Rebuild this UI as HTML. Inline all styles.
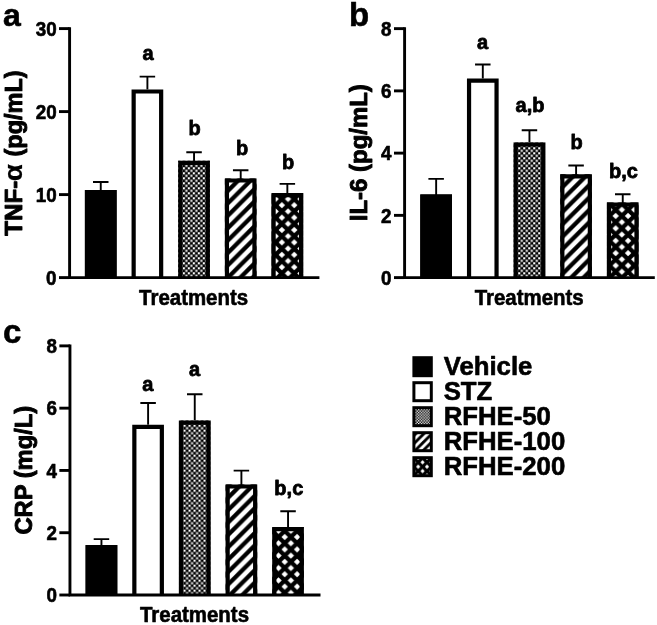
<!DOCTYPE html>
<html lang="en"><head><meta charset="utf-8"><title>Figure</title>
<style>html,body{margin:0;padding:0;background:#fff}body{width:657px;height:625px;overflow:hidden}svg{display:block}text{font-family:'Liberation Sans', Arial, Helvetica, sans-serif;font-weight:bold;fill:#000}</style>
</head><body>
<svg width="657" height="625" viewBox="0 0 657 625">
<defs>
<pattern id="pChk" x="-0.4" y="-0.35" width="5" height="5" patternUnits="userSpaceOnUse"><rect width="5" height="5" fill="#000"/><rect x="0" y="0" width="2.15" height="2.15" fill="#fff"/><rect x="2.5" y="2.5" width="2.15" height="2.15" fill="#fff"/></pattern>
<pattern id="pDiagA" x="-80.75" y="0" width="12.4" height="12.4" patternUnits="userSpaceOnUse"><rect width="12.4" height="12.4" fill="#000"/><path d="M0 0H6.4L0 6.4ZM12.4 0V6.4L6.4 12.4H0Z" fill="#fff"/></pattern>
<pattern id="pDiagB" x="-85.3" y="0" width="12.4" height="12.4" patternUnits="userSpaceOnUse"><rect width="12.4" height="12.4" fill="#000"/><path d="M0 0H6.4L0 6.4ZM12.4 0V6.4L6.4 12.4H0Z" fill="#fff"/></pattern>
<pattern id="pDiagC" x="-91.77" y="0" width="12.4" height="12.4" patternUnits="userSpaceOnUse"><rect width="12.4" height="12.4" fill="#000"/><path d="M0 0H6.4L0 6.4ZM12.4 0V6.4L6.4 12.4H0Z" fill="#fff"/></pattern>
<pattern id="pHatchA" x="10.36" y="-72.4" width="12.4" height="12.4" patternUnits="userSpaceOnUse"><rect width="12.4" height="12.4" fill="#000"/><path d="M6.2 3L9.4 6.2L6.2 9.4L3 6.2ZM0 0H3.2L0 3.2ZM12.4 0H9.2L12.4 3.2ZM0 12.4H3.2L0 9.2ZM12.4 12.4H9.2L12.4 9.2Z" fill="#fff"/></pattern>
<pattern id="pHatchB" x="8.78" y="-74.04" width="12.4" height="12.4" patternUnits="userSpaceOnUse"><rect width="12.4" height="12.4" fill="#000"/><path d="M6.2 3L9.4 6.2L6.2 9.4L3 6.2ZM0 0H3.2L0 3.2ZM12.4 0H9.2L12.4 3.2ZM0 12.4H3.2L0 9.2ZM12.4 12.4H9.2L12.4 9.2Z" fill="#fff"/></pattern>
<pattern id="pHatchC" x="12.51" y="-57.97" width="12.4" height="12.4" patternUnits="userSpaceOnUse"><rect width="12.4" height="12.4" fill="#000"/><path d="M6.2 3L9.4 6.2L6.2 9.4L3 6.2ZM0 0H3.2L0 3.2ZM12.4 0H9.2L12.4 3.2ZM0 12.4H3.2L0 9.2ZM12.4 12.4H9.2L12.4 9.2Z" fill="#fff"/></pattern>
<pattern id="pChkL" width="2.8" height="2.8" patternUnits="userSpaceOnUse"><rect width="2.8" height="2.8" fill="#000"/><rect x="0" y="0" width="1.35" height="1.35" fill="#fff"/><rect x="1.4" y="1.4" width="1.35" height="1.35" fill="#fff"/></pattern>
<pattern id="pDiagL" x="15.95" y="0" width="8.1" height="8.1" patternUnits="userSpaceOnUse"><rect width="8.1" height="8.1" fill="#000"/><path d="M0 0H4.1L0 4.1ZM8.1 0V4.1L4.1 8.1H0Z" fill="#fff"/></pattern>
<pattern id="pHatchL" x="5.8" y="1.7" width="8.8" height="8.8" patternUnits="userSpaceOnUse"><rect width="8.8" height="8.8" fill="#000"/><path d="M4.4 2.3L6.5 4.4L4.4 6.5L2.3 4.4ZM0 0H2.1L0 2.1ZM8.8 0H6.7L8.8 2.1ZM0 8.8H2.1L0 6.7ZM8.8 8.8H6.7L8.8 6.7Z" fill="#fff"/></pattern>
</defs>
<rect width="657" height="625" fill="#fff"/>
<g>
<path d="M100.75 191V182M93 182H108.5" stroke="#000" stroke-width="1.9" fill="none"/>
<g transform="translate(84.9 277.6)"><rect x="0" y="-87.6" width="31.7" height="87.6" fill="#000"/><path d="M2.1 0V-85.5H29.6V0" fill="none" stroke="#000" stroke-width="4.2"/></g>
<path d="M147.4 90.4V76.6M139.65 76.6H155.15" stroke="#000" stroke-width="1.9" fill="none"/>
<g transform="translate(131.55 277.6)"><rect x="0" y="-188.2" width="31.7" height="188.2" fill="#fff"/><path d="M2.1 0V-186.1H29.6V0" fill="none" stroke="#000" stroke-width="4.2"/></g>
<path d="M194.05 161.7V152.3M186.3 152.3H201.8" stroke="#000" stroke-width="1.9" fill="none"/>
<g transform="translate(178.2 277.6)"><rect x="0" y="-116.9" width="31.7" height="116.9" fill="url(#pChk)"/><path d="M2.1 0V-114.8H29.6V0" fill="none" stroke="#000" stroke-width="4.2"/></g>
<path d="M240.7 179.4V170.3M232.95 170.3H248.45" stroke="#000" stroke-width="1.9" fill="none"/>
<g transform="translate(224.85 277.6)"><rect x="0" y="-99.2" width="31.7" height="99.2" fill="url(#pDiagA)"/><path d="M2.1 0V-97.1H29.6V0" fill="none" stroke="#000" stroke-width="4.2"/></g>
<path d="M287.35 194V183.9M279.6 183.9H295.1" stroke="#000" stroke-width="1.9" fill="none"/>
<g transform="translate(271.5 277.6)"><rect x="0" y="-84.6" width="31.7" height="84.6" fill="url(#pHatchA)"/><path d="M2.1 0V-82.5H29.6V0" fill="none" stroke="#000" stroke-width="4.2"/></g>
<path d="M69.6 27.15V277.6H319.4" stroke="#000" stroke-width="2.9" fill="none" stroke-linejoin="miter"/>
<path d="M59 277.6H69.6" stroke="#000" stroke-width="2.9"/>
<text transform="translate(56.6 284.85) scale(0.97 1)" font-size="19.4" text-anchor="end" stroke="#000" stroke-width="0.6" stroke-linejoin="round">0</text>
<path d="M59 194.6H69.6" stroke="#000" stroke-width="2.9"/>
<text transform="translate(56.6 201.85) scale(0.97 1)" font-size="19.4" text-anchor="end" stroke="#000" stroke-width="0.6" stroke-linejoin="round">10</text>
<path d="M59 111.6H69.6" stroke="#000" stroke-width="2.9"/>
<text transform="translate(56.6 118.85) scale(0.97 1)" font-size="19.4" text-anchor="end" stroke="#000" stroke-width="0.6" stroke-linejoin="round">20</text>
<path d="M59 28.6H69.6" stroke="#000" stroke-width="2.9"/>
<text transform="translate(56.6 35.85) scale(0.97 1)" font-size="19.4" text-anchor="end" stroke="#000" stroke-width="0.6" stroke-linejoin="round">30</text>
<text transform="translate(193.6 305) scale(0.96 1)" font-size="21.3" text-anchor="middle" stroke="#000" stroke-width="0.6" stroke-linejoin="round">Treatments</text>
<text transform="translate(3 26)" font-size="32" text-anchor="start" stroke="#000" stroke-width="0.6" stroke-linejoin="round">a</text>
<text transform="translate(148 59.8) scale(0.98 1)" font-size="20.4" text-anchor="middle" stroke="#000" stroke-width="0.8" stroke-linejoin="round">a</text>
<text transform="translate(194.6 134.7) scale(0.98 1)" font-size="20.4" text-anchor="middle" stroke="#000" stroke-width="0.8" stroke-linejoin="round">b</text>
<text transform="translate(242.1 155.1) scale(0.98 1)" font-size="20.4" text-anchor="middle" stroke="#000" stroke-width="0.8" stroke-linejoin="round">b</text>
<text transform="translate(288 169.2) scale(0.98 1)" font-size="20.4" text-anchor="middle" stroke="#000" stroke-width="0.8" stroke-linejoin="round">b</text>
</g>
<g transform="translate(21.6 0) rotate(-90)">
<text transform="translate(-235.8 0) scale(1.03 1)" font-size="23.5" text-anchor="start" stroke="#000" stroke-width="0.9" stroke-linejoin="round">TNF-</text>
<text transform="translate(-172.6 0) scale(1.12 1)" font-size="25" text-anchor="middle" stroke="#000" stroke-width="0.25" stroke-linejoin="round" font-weight="normal" font-family="'Liberation Serif', serif">&#945;</text>
<text transform="translate(-156.5 0)" font-size="23.5" text-anchor="start" stroke="#000" stroke-width="0.9" stroke-linejoin="round">(pg/mL)</text>
</g>
<g>
<path d="M436.15 195.4V178.9M428.4 178.9H443.9" stroke="#000" stroke-width="1.9" fill="none"/>
<g transform="translate(420.3 277.6)"><rect x="0" y="-83.2" width="31.7" height="83.2" fill="#000"/><path d="M2.1 0V-81.1H29.6V0" fill="none" stroke="#000" stroke-width="4.2"/></g>
<path d="M482.8 79.5V64.5M475.05 64.5H490.55" stroke="#000" stroke-width="1.9" fill="none"/>
<g transform="translate(466.95 277.6)"><rect x="0" y="-199.1" width="31.7" height="199.1" fill="#fff"/><path d="M2.1 0V-197H29.6V0" fill="none" stroke="#000" stroke-width="4.2"/></g>
<path d="M529.45 143.4V130.2M521.7 130.2H537.2" stroke="#000" stroke-width="1.9" fill="none"/>
<g transform="translate(513.6 277.6)"><rect x="0" y="-135.2" width="31.7" height="135.2" fill="url(#pChk)"/><path d="M2.1 0V-133.1H29.6V0" fill="none" stroke="#000" stroke-width="4.2"/></g>
<path d="M576.1 175.2V165.5M568.35 165.5H583.85" stroke="#000" stroke-width="1.9" fill="none"/>
<g transform="translate(560.25 277.6)"><rect x="0" y="-103.4" width="31.7" height="103.4" fill="url(#pDiagB)"/><path d="M2.1 0V-101.3H29.6V0" fill="none" stroke="#000" stroke-width="4.2"/></g>
<path d="M622.75 203.4V194.2M615 194.2H630.5" stroke="#000" stroke-width="1.9" fill="none"/>
<g transform="translate(606.9 277.6)"><rect x="0" y="-75.2" width="31.7" height="75.2" fill="url(#pHatchB)"/><path d="M2.1 0V-73.1H29.6V0" fill="none" stroke="#000" stroke-width="4.2"/></g>
<path d="M404.6 27.15V277.6H654.8" stroke="#000" stroke-width="2.9" fill="none" stroke-linejoin="miter"/>
<path d="M394 277.6H404.6" stroke="#000" stroke-width="2.9"/>
<text transform="translate(391.6 284.85) scale(0.97 1)" font-size="19.4" text-anchor="end" stroke="#000" stroke-width="0.6" stroke-linejoin="round">0</text>
<path d="M394 215.36H404.6" stroke="#000" stroke-width="2.9"/>
<text transform="translate(391.6 222.61) scale(0.97 1)" font-size="19.4" text-anchor="end" stroke="#000" stroke-width="0.6" stroke-linejoin="round">2</text>
<path d="M394 153.12H404.6" stroke="#000" stroke-width="2.9"/>
<text transform="translate(391.6 160.37) scale(0.97 1)" font-size="19.4" text-anchor="end" stroke="#000" stroke-width="0.6" stroke-linejoin="round">4</text>
<path d="M394 90.88H404.6" stroke="#000" stroke-width="2.9"/>
<text transform="translate(391.6 98.13) scale(0.97 1)" font-size="19.4" text-anchor="end" stroke="#000" stroke-width="0.6" stroke-linejoin="round">6</text>
<path d="M394 28.64H404.6" stroke="#000" stroke-width="2.9"/>
<text transform="translate(391.6 35.89) scale(0.97 1)" font-size="19.4" text-anchor="end" stroke="#000" stroke-width="0.6" stroke-linejoin="round">8</text>
<text transform="translate(529.2 305) scale(0.96 1)" font-size="21.3" text-anchor="middle" stroke="#000" stroke-width="0.6" stroke-linejoin="round">Treatments</text>
<text transform="translate(349.1 26)" font-size="33" text-anchor="start" stroke="#000" stroke-width="0.6" stroke-linejoin="round">b</text>
<text transform="translate(482.6 49) scale(0.98 1)" font-size="20.4" text-anchor="middle" stroke="#000" stroke-width="0.8" stroke-linejoin="round">a</text>
<text transform="translate(530 111.8) scale(0.98 1)" font-size="20.4" text-anchor="middle" stroke="#000" stroke-width="0.8" stroke-linejoin="round">a,b</text>
<text transform="translate(576.7 148.5) scale(0.98 1)" font-size="20.4" text-anchor="middle" stroke="#000" stroke-width="0.8" stroke-linejoin="round">b</text>
<text transform="translate(623.5 178.1) scale(0.98 1)" font-size="20.4" text-anchor="middle" stroke="#000" stroke-width="0.8" stroke-linejoin="round">b,c</text>
</g>
<g transform="translate(367.2 0) rotate(-90)">
<text transform="translate(-152.7 0) scale(1.02 1)" font-size="23.5" text-anchor="middle" stroke="#000" stroke-width="0.9" stroke-linejoin="round">IL-6 (pg/mL)</text>
</g>
<g>
<path d="M101.45 546.1V539.1M93.7 539.1H109.2" stroke="#000" stroke-width="1.9" fill="none"/>
<g transform="translate(85.6 595)"><rect x="0" y="-49.9" width="31.7" height="49.9" fill="#000"/><path d="M2.1 0V-47.8H29.6V0" fill="none" stroke="#000" stroke-width="4.2"/></g>
<path d="M148.1 425.7V403M140.35 403H155.85" stroke="#000" stroke-width="1.9" fill="none"/>
<g transform="translate(132.25 595)"><rect x="0" y="-170.3" width="31.7" height="170.3" fill="#fff"/><path d="M2.1 0V-168.2H29.6V0" fill="none" stroke="#000" stroke-width="4.2"/></g>
<path d="M194.75 421.5V394.3M187 394.3H202.5" stroke="#000" stroke-width="1.9" fill="none"/>
<g transform="translate(178.9 595)"><rect x="0" y="-174.5" width="31.7" height="174.5" fill="url(#pChk)"/><path d="M2.1 0V-172.4H29.6V0" fill="none" stroke="#000" stroke-width="4.2"/></g>
<path d="M241.4 485.4V470.6M233.65 470.6H249.15" stroke="#000" stroke-width="1.9" fill="none"/>
<g transform="translate(225.55 595)"><rect x="0" y="-110.6" width="31.7" height="110.6" fill="url(#pDiagC)"/><path d="M2.1 0V-108.5H29.6V0" fill="none" stroke="#000" stroke-width="4.2"/></g>
<path d="M288.05 528.1V511.3M280.3 511.3H295.8" stroke="#000" stroke-width="1.9" fill="none"/>
<g transform="translate(272.2 595)"><rect x="0" y="-67.9" width="31.7" height="67.9" fill="url(#pHatchC)"/><path d="M2.1 0V-65.8H29.6V0" fill="none" stroke="#000" stroke-width="4.2"/></g>
<path d="M69.95 344.45V595H320.5" stroke="#000" stroke-width="2.9" fill="none" stroke-linejoin="miter"/>
<path d="M59.35 595H69.95" stroke="#000" stroke-width="2.9"/>
<text transform="translate(56.95 602.25) scale(0.97 1)" font-size="19.4" text-anchor="end" stroke="#000" stroke-width="0.6" stroke-linejoin="round">0</text>
<path d="M59.35 532.72H69.95" stroke="#000" stroke-width="2.9"/>
<text transform="translate(56.95 539.97) scale(0.97 1)" font-size="19.4" text-anchor="end" stroke="#000" stroke-width="0.6" stroke-linejoin="round">2</text>
<path d="M59.35 470.44H69.95" stroke="#000" stroke-width="2.9"/>
<text transform="translate(56.95 477.69) scale(0.97 1)" font-size="19.4" text-anchor="end" stroke="#000" stroke-width="0.6" stroke-linejoin="round">4</text>
<path d="M59.35 408.16H69.95" stroke="#000" stroke-width="2.9"/>
<text transform="translate(56.95 415.41) scale(0.97 1)" font-size="19.4" text-anchor="end" stroke="#000" stroke-width="0.6" stroke-linejoin="round">6</text>
<path d="M59.35 345.88H69.95" stroke="#000" stroke-width="2.9"/>
<text transform="translate(56.95 353.13) scale(0.97 1)" font-size="19.4" text-anchor="end" stroke="#000" stroke-width="0.6" stroke-linejoin="round">8</text>
<text transform="translate(194.5 621.9) scale(0.96 1)" font-size="21.3" text-anchor="middle" stroke="#000" stroke-width="0.6" stroke-linejoin="round">Treatments</text>
<text transform="translate(2.9 342.6)" font-size="33" text-anchor="start" stroke="#000" stroke-width="0.6" stroke-linejoin="round">c</text>
<text transform="translate(147.8 390.6) scale(0.98 1)" font-size="20.4" text-anchor="middle" stroke="#000" stroke-width="0.8" stroke-linejoin="round">a</text>
<text transform="translate(194.5 375.5) scale(0.98 1)" font-size="20.4" text-anchor="middle" stroke="#000" stroke-width="0.8" stroke-linejoin="round">a</text>
<text transform="translate(288.8 495.1) scale(0.98 1)" font-size="20.4" text-anchor="middle" stroke="#000" stroke-width="0.8" stroke-linejoin="round">b,c</text>
</g>
<g transform="translate(32.1 0) rotate(-90)">
<text transform="translate(-470.2 0) scale(1.01 1)" font-size="23.5" text-anchor="middle" stroke="#000" stroke-width="0.9" stroke-linejoin="round">CRP (mg/L)</text>
</g>
<g>
<rect transform="translate(412.4 356.2)" x="1.5" y="1.5" width="17.4" height="18" fill="#000" stroke="#000" stroke-width="3"/>
<text transform="translate(443.7 375.45) scale(1.03 1)" font-size="25" text-anchor="start" stroke="#000" stroke-width="0.6" stroke-linejoin="round">Vehicle</text>
<rect transform="translate(412.4 381.2)" x="1.5" y="1.5" width="17.4" height="18" fill="#fff" stroke="#000" stroke-width="3"/>
<text transform="translate(443.7 400.45) scale(1.03 1)" font-size="25" text-anchor="start" stroke="#000" stroke-width="0.6" stroke-linejoin="round">STZ</text>
<rect transform="translate(412.4 406.2)" x="1.5" y="1.5" width="17.4" height="18" fill="url(#pChkL)" stroke="#000" stroke-width="3"/>
<text transform="translate(443.7 425.45) scale(1.03 1)" font-size="25" text-anchor="start" stroke="#000" stroke-width="0.6" stroke-linejoin="round">RFHE-50</text>
<rect transform="translate(412.4 431.2)" x="1.5" y="1.5" width="17.4" height="18" fill="url(#pDiagL)" stroke="#000" stroke-width="3"/>
<text transform="translate(443.7 450.45) scale(1.03 1)" font-size="25" text-anchor="start" stroke="#000" stroke-width="0.6" stroke-linejoin="round">RFHE-100</text>
<rect transform="translate(412.4 456.2)" x="1.5" y="1.5" width="17.4" height="18" fill="url(#pHatchL)" stroke="#000" stroke-width="3"/>
<text transform="translate(443.7 475.45) scale(1.03 1)" font-size="25" text-anchor="start" stroke="#000" stroke-width="0.6" stroke-linejoin="round">RFHE-200</text>
</g>
</svg>
</body></html>
